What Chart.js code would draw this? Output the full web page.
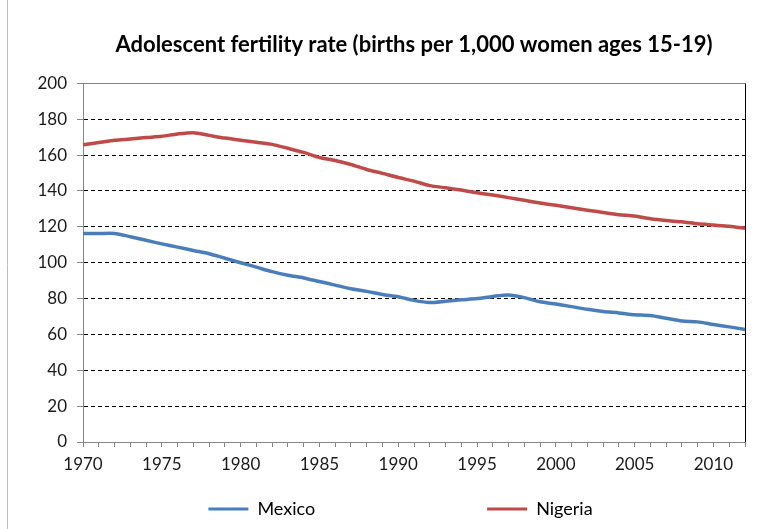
<!DOCTYPE html>
<html>
<head>
<meta charset="utf-8">
<script src="https://cdn.jsdelivr.net/npm/chart.js@4.4.0/dist/chart.umd.min.js"></script>
<style>
  html, body { margin: 0; padding: 0; background: #fff; }
  #wrap { width: 774px; height: 529px; position: relative; }
</style>
</head>
<body>
<div id="wrap"><canvas id="c" width="774" height="529"></canvas></div>
<script>
const years = [1970,1971,1972,1973,1974,1975,1976,1977,1978,1979,1980,1981,1982,1983,1984,1985,1986,1987,1988,1989,1990,1991,1992,1993,1994,1995,1996,1997,1998,1999,2000,2001,2002,2003,2004,2005,2006,2007,2008,2009,2010,2011,2012];
const mexico = [116.3,116.3,116.3,114.5,112.5,110.5,108.7,106.8,105,102.5,100,97.5,95,93,91.5,89.5,87.5,85.5,84,82.3,81,79,77.8,78.5,79.3,80,81.2,82,80.5,78.2,77,75.5,74,72.8,72,71,70.5,69,67.5,67,65.5,64.2,62.8];
const nigeria = [165.8,167,168.3,169,169.8,170.5,171.8,172.5,171,169.5,168.3,167.2,166,163.8,161.5,158.7,157,154.8,152,149.8,147.5,145.5,143,141.8,140.5,139,137.7,136.3,134.8,133.3,132,130.7,129.3,128,126.8,126,124.5,123.5,122.8,121.7,121,120.3,119.2];
const yTicks = [0,20,40,60,80,100,120,140,160,180,200];
const titleText = 'Adolescent fertility rate (births per 1,000 women ages 15-19)';
const seriesNames = ['Mexico', 'Nigeria'];

const FONT = 'Lato, "Open Sans", sans-serif';

const framePlugin = {
  id: 'frame',
  beforeDraw(chart) {
    const ctx = chart.ctx;
    ctx.save();
    ctx.strokeStyle = '#bfbfbf';
    ctx.lineWidth = 1;
    ctx.beginPath();
    ctx.moveTo(7.5, 0);
    ctx.lineTo(7.5, chart.height);
    ctx.stroke();
    ctx.restore();
  },
  beforeDatasetsDraw(chart) {
    const {ctx, chartArea: a} = chart;
    ctx.save();
    ctx.lineWidth = 1;
    ctx.strokeStyle = '#868686';
    ctx.beginPath();
    ctx.moveTo(a.left, Math.round(a.top) + 0.5);
    ctx.lineTo(a.right, Math.round(a.top) + 0.5);
    ctx.stroke();
    ctx.strokeStyle = '#000';
    ctx.beginPath();
    ctx.moveTo(Math.round(a.right) + 0.5, a.top);
    ctx.lineTo(Math.round(a.right) + 0.5, a.bottom);
    ctx.stroke();
    ctx.restore();
  }
};

new Chart(document.getElementById('c'), {
  type: 'line',
  data: {
    labels: years,
    datasets: [
      { label: seriesNames[0], data: mexico, borderColor: '#4A7EBB', backgroundColor: '#4A7EBB', borderWidth: 3.5, pointRadius: 0, tension: 0.25 },
      { label: seriesNames[1], data: nigeria, borderColor: '#BE4B48', backgroundColor: '#BE4B48', borderWidth: 3.5, pointRadius: 0, tension: 0.25 }
    ]
  },
  options: {
    responsive: false,
    animation: false,
    devicePixelRatio: 1,
    layout: { padding: { left: 0, right: 29, top: 0, bottom: 1 } },
    plugins: {
      title: {
        display: true,
        fullSize: false,
        text: titleText,
        color: '#000',
        font: { family: FONT, size: 22, weight: 'bold' },
        padding: { top: 32, bottom: 25 }
      },
      legend: {
        position: 'bottom',
        fullSize: false,
        labels: {
          color: '#222',
          font: { family: FONT, size: 18 },
          boxWidth: 40,
          boxHeight: 3,
          padding: 10,
          generateLabels(chart) {
            return chart.data.datasets.map((ds, i) => ({
              text: i === 0 ? ds.label + '\u2003'.repeat(12) : ds.label + '\u2003'.repeat(2),
              fillStyle: ds.borderColor,
              strokeStyle: ds.borderColor,
              lineWidth: 0,
              hidden: false,
              datasetIndex: i
            }));
          }
        }
      },
      tooltip: { enabled: false }
    },
    scales: {
      x: {
        type: 'category',
        offset: false,
        afterFit(scale) { scale.height = 48; },
        grid: { display: true, drawOnChartArea: false, drawTicks: true, tickLength: 5, tickColor: '#868686', color: '#868686' },
        border: { display: true, color: '#868686', width: 1 },
        ticks: {
          autoSkip: false,
          maxRotation: 0,
          minRotation: 0,
          padding: 7,
          color: '#1a1a1a',
          font: { family: FONT, size: 17 },
          callback(value, index) { const y = years[index]; return y % 5 === 0 ? String(y) : ''; }
        }
      },
      y: {
        min: 0,
        max: 200,
        afterFit(scale) { scale.width = 83; },
        afterBuildTicks(scale) { scale.ticks = yTicks.map(v => ({ value: v })); },
        grid: {
          color(ctx) { const v = ctx.tick && ctx.tick.value; return (v === 0 || v === 200) ? 'rgba(0,0,0,0)' : '#000'; },
          lineWidth: 1,
          drawTicks: true,
          tickLength: 6,
          tickColor: '#868686'
        },
        border: { display: true, color: '#868686', width: 1, dash: [4, 3] },
        ticks: {
          padding: 10,
          color: '#1a1a1a',
          font: { family: FONT, size: 17 }
        }
      }
    }
  },
  plugins: [framePlugin]
});
</script>
</body>
</html>
